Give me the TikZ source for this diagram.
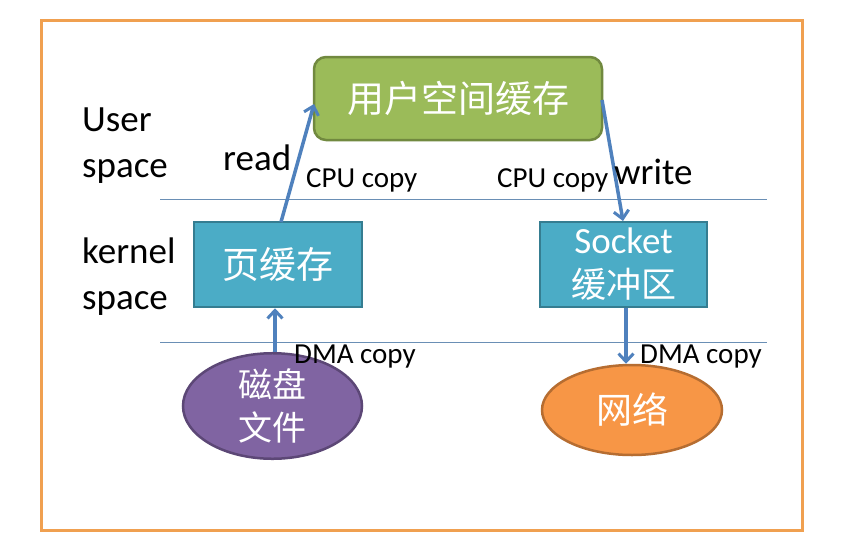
\documentclass[tikz,border=0pt]{standalone}
\usepackage{fontspec}
\setmainfont{Carlito}
\newfontfamily\cjk{Noto Sans CJK SC}
\usetikzlibrary{shapes.geometric,arrows.meta}
\definecolor{frameor}{HTML}{F0A050}
\definecolor{greenfill}{HTML}{9BBB59}
\definecolor{greenline}{HTML}{71893F}
\definecolor{bluefill}{HTML}{4BACC6}
\definecolor{blueline}{HTML}{357D91}
\definecolor{purplefill}{HTML}{8064A2}
\definecolor{purpleline}{HTML}{5C4776}
\definecolor{orangefill}{HTML}{F79646}
\definecolor{orangeline}{HTML}{B66D31}
\definecolor{arrowblue}{HTML}{4F81BD}
\definecolor{sepline}{HTML}{6A8FB5}
\tikzset{
  box/.style={draw=blueline, fill=bluefill, line width=2.5pt, text=white, align=center, inner sep=0pt},
  ell/.style={ellipse, line width=2.5pt, text=white, align=center, inner sep=0pt},
  flow/.style={draw=arrowblue, line width=3.5pt, -{Straight Barb[length=8pt,width=15pt,line width=3pt]}},
  lbl/.style={font=\fontsize{37}{46}\selectfont, align=left, inner sep=0pt},
  small/.style={font=\fontsize{29}{34}\selectfont, inner sep=0pt},
}
\begin{document}
\begin{tikzpicture}[x=1pt,y=-1pt]
\useasboundingbox (0,0) rectangle (867,546);
\fill[white] (0,0) rectangle (867,546);
\draw[frameor, line width=3pt] (41,20) rectangle (802,530);
% separator lines
\coordinate (s1a) at (160,199); \coordinate (s1b) at (767,199);
\coordinate (s2a) at (160,342); \coordinate (s2b) at (767,342);
\draw[sepline, line width=1pt] (s1a) -- (s1b);
\draw[sepline, line width=1pt] (s2a) -- (s2b);
% nodes
\node[draw=greenline, fill=greenfill, line width=2.5pt, rounded corners=12pt, minimum width=288pt, minimum height=83pt, text=white, inner sep=0pt, font=\cjk\fontsize{37}{40}\selectfont] (user) at (458,98.5) {用户空间缓存};
\node[box, minimum width=168pt, minimum height=85pt, font=\cjk\fontsize{37}{40}\selectfont] (page) at (278,264.5) {页缓存};
\node[box, minimum width=167pt, minimum height=85pt, font=\fontsize{37}{44}\selectfont] (sock) at (623.5,264.5) {Socket\\{\cjk\fontsize{35}{44}\selectfont 缓冲区}};
\node[ell, draw=purpleline, fill=purplefill, minimum width=179pt, minimum height=88pt, font=\cjk\fontsize{34}{43}\selectfont] (disk) at (272.5,406) {磁盘\\文件};
\node[ell, draw=orangeline, fill=orangefill, minimum width=180pt, minimum height=90pt, font=\cjk\fontsize{36}{40}\selectfont] (net) at (632,410) {网络};
% arrows
\coordinate (pt) at (281,222);
\coordinate (ul) at (314,104);
\coordinate (ur) at (602,100);
\coordinate (st) at (623,221);
\draw[flow] (pt) -- (ul);
\draw[flow] (ur) -- (st);
\draw[flow] (disk.north -| 275,0) -- (page.south -| 275,0);
\draw[flow] (sock.south -| 626,0) -- (net.north -| 626,0);
% labels
\node[lbl, anchor=west] (us) at (82,146) {User\\space};
\node[lbl, anchor=west] (ks) at (82,277) {kernel\\space};
\node[lbl, anchor=west] (rd) at (223,158) {read};
\node[lbl, anchor=west] (wr) at (614,172) {write};
\node[small, anchor=west] (c1) at (306,180) {CPU copy};
\node[small, anchor=west] (c2) at (497,180) {CPU copy};
\node[small, anchor=west] (d1) at (294,357) {DMA copy};
\node[small, anchor=west] (d2) at (640,357) {DMA copy};
\end{tikzpicture}
\end{document}
